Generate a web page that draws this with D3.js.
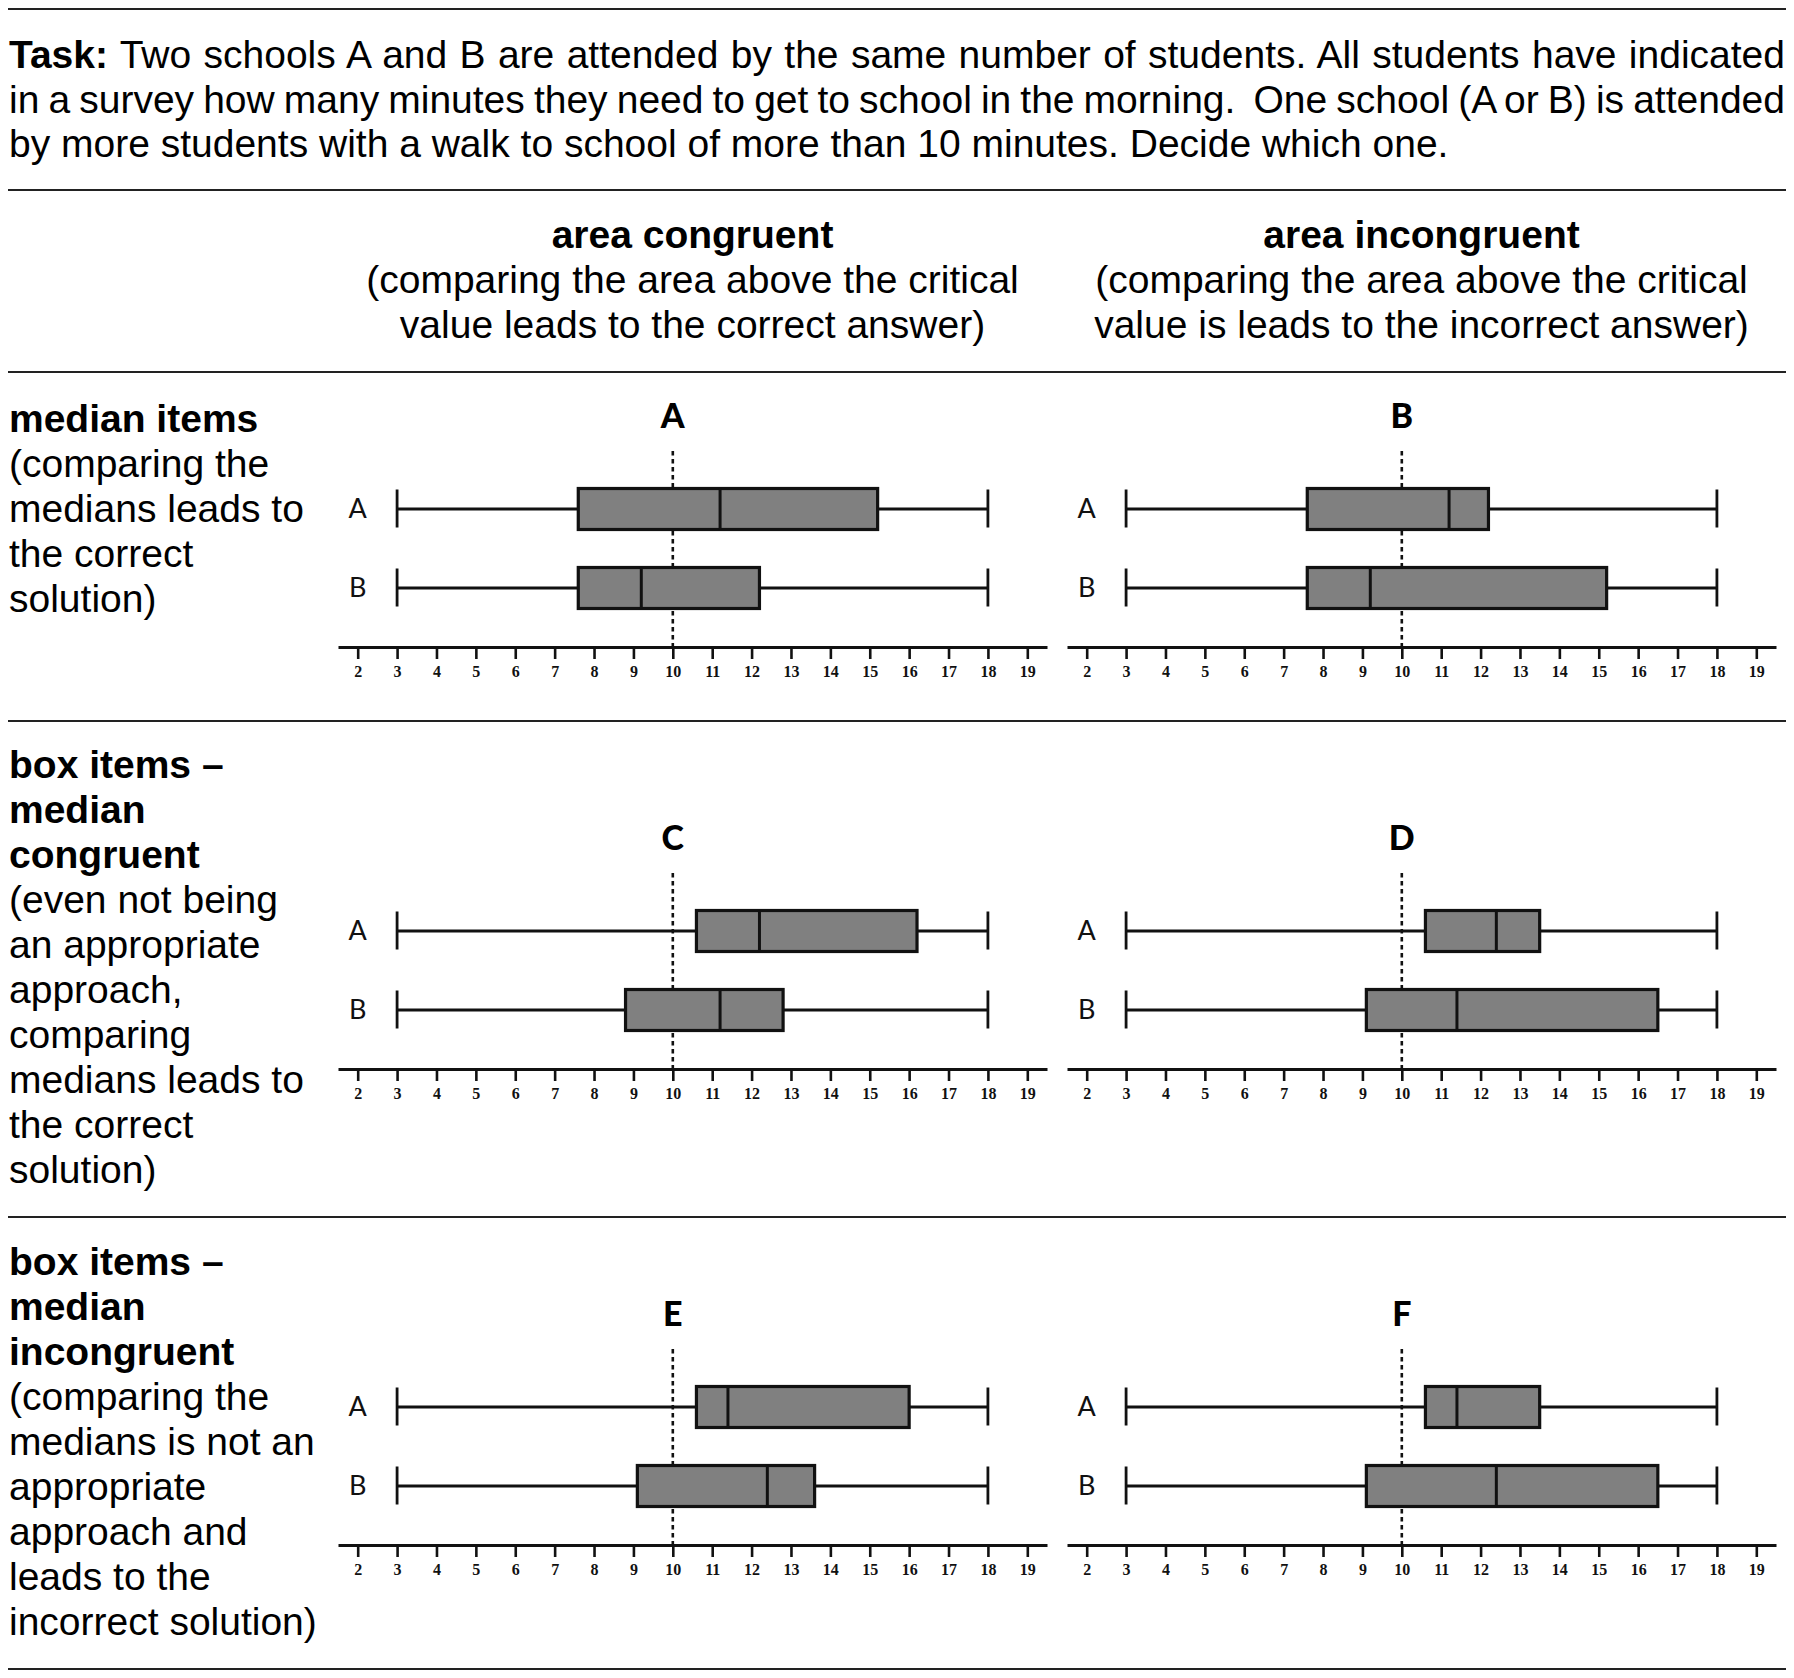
<!DOCTYPE html>
<html>
<head>
<meta charset="utf-8">
<script src="https://cdn.jsdelivr.net/npm/d3@7"></script>
<style>
  html, body { margin: 0; padding: 0; background: #fff; }
  svg { display: block; }
  text { white-space: pre; }
</style>
</head>
<body>
<svg id="chart" width="1794" height="1678"></svg>
<script>
// ---------------- data ----------------
const panelLetters = ["A", "B", "C", "D", "E", "F"];
const schools = ["A", "B"];
// school A per panel
const minA = [3, 3, 3, 3, 3, 3];
const q1A  = [7.6, 7.6, 10.6, 10.6, 10.6, 10.6];
const medA = [11.2, 11.2, 12.2, 12.4, 11.4, 11.4];
const q3A  = [15.2, 12.2, 16.2, 13.5, 16.0, 13.5];
const maxA = [18, 18, 18, 18, 18, 18];
// school B per panel
const minB = [3, 3, 3, 3, 3, 3];
const q1B  = [7.6, 7.6, 8.8, 9.1, 9.1, 9.1];
const medB = [9.2, 9.2, 11.2, 11.4, 12.4, 12.4];
const q3B  = [12.2, 15.2, 12.8, 16.5, 13.6, 16.5];
const maxB = [18, 18, 18, 18, 18, 18];
const criticalValue = 10;
const tickValues = [2, 3, 4, 5, 6, 7, 8, 9, 10, 11, 12, 13, 14, 15, 16, 17, 18, 19];

const taskBold = "Task:";
const taskLines = [
  " Two schools A and B are attended by the same number of students. All students have indicated",
  "in a survey how many minutes they need to get to school in the morning.  One school (A or B) is attended",
  "by more students with a walk to school of more than 10 minutes. Decide which one."
];
const colTitles = ["area congruent", "area incongruent"];
const colSubtitles = [
  ["(comparing the area above the critical", "value leads to the correct answer)"],
  ["(comparing the area above the critical", "value is leads to the incorrect answer)"]
];
const rowBold = [
  ["median items"],
  ["box items \u2013", "median", "congruent"],
  ["box items \u2013", "median", "incongruent"]
];
const rowText = [
  ["(comparing the", "medians leads to", "the correct", "solution)"],
  ["(even not being", "an appropriate", "approach,", "comparing", "medians leads to", "the correct", "solution)"],
  ["(comparing the", "medians is not an", "appropriate", "approach and", "leads to the", "incorrect solution)"]
];

// ---------------- layout ----------------
const svg = d3.select("#chart");
const FONT = "'Liberation Sans', Arial, Helvetica, sans-serif";
const FS = 39, LH = 45;
const LEFT = 9;
const TEXT_RIGHT = 1785;
const colRanges = [[338, 1047], [1067, 1776]];
const rowAxisY = [647, 1069, 1545];
const rowFirstBaseline = [432, 778, 1275];
const ruleYs = [9, 190, 372, 721, 1217, 1669];

// horizontal rules
svg.selectAll("line.rule").data(ruleYs).join("line")
  .attr("class", "rule")
  .attr("x1", 8).attr("x2", 1786)
  .attr("y1", d => d).attr("y2", d => d)
  .attr("stroke", "#222").attr("stroke-width", 2);

// task text (first two lines justified to the full width)
const taskBaselines = [68, 113, 157];
taskLines.forEach((line, i) => {
  const t = svg.append("text")
    .attr("x", LEFT).attr("y", taskBaselines[i])
    .attr("font-family", FONT).attr("font-size", FS).attr("fill", "#000");
  if (i === 0) t.append("tspan").attr("font-weight", "bold").text(taskBold);
  t.append("tspan").text(line);
  if (i < 2) {
    const w = t.node().getComputedTextLength();
    const full = (i === 0 ? taskBold : "") + line;
    const nSpaces = (full.match(/ /g) || []).length;
    const ws = (TEXT_RIGHT - LEFT - w) / nSpaces;
    t.attr("word-spacing", ws);
  }
});

// column headers
colTitles.forEach((title, c) => {
  const cx = (colRanges[c][0] + colRanges[c][1]) / 2;
  svg.append("text")
    .attr("x", cx).attr("y", 248).attr("text-anchor", "middle")
    .attr("font-family", FONT).attr("font-size", FS).attr("font-weight", "bold")
    .text(title);
  colSubtitles[c].forEach((s, k) => {
    svg.append("text")
      .attr("x", cx).attr("y", 293 + k * LH).attr("text-anchor", "middle")
      .attr("font-family", FONT).attr("font-size", FS)
      .text(s);
  });
});

// row labels
rowBold.forEach((bl, r) => {
  const lines = bl.map(s => ({ s, b: true })).concat(rowText[r].map(s => ({ s, b: false })));
  lines.forEach((l, k) => {
    svg.append("text")
      .attr("x", LEFT).attr("y", rowFirstBaseline[r] + k * LH)
      .attr("font-family", FONT).attr("font-size", FS)
      .attr("font-weight", l.b ? "bold" : "normal")
      .text(l.s);
  });
});

// ---------------- panels ----------------
const BOXH = 41;
panelLetters.forEach((letter, p) => {
  const r = Math.floor(p / 2), c = p % 2;
  const axisY = rowAxisY[r];
  const x = d3.scaleLinear().domain([1.5, 19.5]).range(colRanges[c]);
  const g = svg.append("g");

  // axis
  const ax = g.append("g")
    .attr("transform", `translate(0,${axisY})`)
    .call(d3.axisBottom(x).tickValues(tickValues).tickSize(12).tickSizeOuter(0).tickPadding(7));
  ax.select(".domain").attr("stroke", "#111").attr("stroke-width", 3);
  ax.selectAll(".tick line").attr("stroke", "#111").attr("stroke-width", 2.6);
  ax.selectAll(".tick text")
    .attr("font-family", "'Liberation Serif', 'Times New Roman', serif")
    .attr("font-size", 16).attr("font-weight", "bold").attr("fill", "#111");

  // panel letter
  g.append("text")
    .attr("x", x(criticalValue)).attr("y", axisY - 219)
    .attr("text-anchor", "middle")
    .attr("font-family", "Lato, 'DejaVu Sans', sans-serif").attr("font-weight", 900)
    .attr("font-size", 34).text(letter);

  // dotted critical line
  g.append("line")
    .attr("x1", x(criticalValue)).attr("x2", x(criticalValue))
    .attr("y1", axisY - 196).attr("y2", axisY)
    .attr("stroke", "#111").attr("stroke-width", 2.6)
    .attr("stroke-dasharray", "4.5,3.5");

  const stats = [
    { name: schools[0], min: minA[p], q1: q1A[p], med: medA[p], q3: q3A[p], max: maxA[p], cy: axisY - 138 },
    { name: schools[1], min: minB[p], q1: q1B[p], med: medB[p], q3: q3B[p], max: maxB[p], cy: axisY - 59 }
  ];

  stats.forEach(s => {
    const top = s.cy - BOXH / 2, bot = s.cy + BOXH / 2;
    // school label
    g.append("text")
      .attr("x", x(2)).attr("y", s.cy + 9)
      .attr("text-anchor", "middle")
      .attr("font-family", "Lato, 'DejaVu Sans', sans-serif").attr("font-weight", 400)
      .attr("font-size", 27).attr("fill", "#111").text(s.name);
    // whiskers
    g.append("line").attr("x1", x(s.min)).attr("x2", x(s.q1))
      .attr("y1", s.cy).attr("y2", s.cy).attr("stroke", "#111").attr("stroke-width", 2.8);
    g.append("line").attr("x1", x(s.q3)).attr("x2", x(s.max))
      .attr("y1", s.cy).attr("y2", s.cy).attr("stroke", "#111").attr("stroke-width", 2.8);
    [s.min, s.max].forEach(v => {
      g.append("line").attr("x1", x(v)).attr("x2", x(v))
        .attr("y1", top + 1).attr("y2", bot - 2)
        .attr("stroke", "#111").attr("stroke-width", 2.8);
    });
    // box
    g.append("rect")
      .attr("x", x(s.q1)).attr("y", top)
      .attr("width", x(s.q3) - x(s.q1)).attr("height", BOXH)
      .attr("fill", "#808080").attr("stroke", "#111").attr("stroke-width", 3.2);
    // median
    g.append("line").attr("x1", x(s.med)).attr("x2", x(s.med))
      .attr("y1", top).attr("y2", bot)
      .attr("stroke", "#111").attr("stroke-width", 3);
  });
});
</script>
</body>
</html>
